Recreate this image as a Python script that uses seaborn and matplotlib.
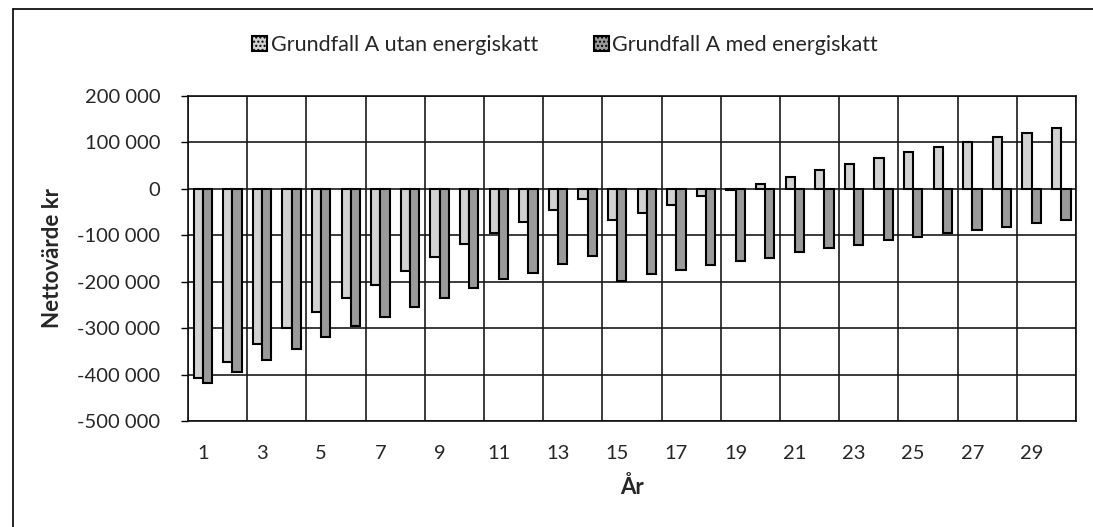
import numpy as np
import pandas as pd
import matplotlib
matplotlib.use("Agg")
import matplotlib.pyplot as plt
from matplotlib.lines import Line2D
import seaborn as sns

years = list(range(1, 31))
utan = [-408000, -372000, -334000, -299000, -266000, -234000, -206000, -176000, -147000, -118000,
        -95000, -71000, -45000, -22000, -68000, -51000, -34000, -15000, -3000, 11000,
        26000, 40000, 54000, 66000, 79000, 89000, 100000, 111000, 121000, 132000]
med = [-419000, -394000, -368000, -344000, -320000, -295000, -276000, -254000, -234000, -214000,
       -195000, -181000, -161000, -145000, -199000, -184000, -175000, -163000, -155000, -148000,
       -137000, -128000, -121000, -111000, -103000, -96000, -89000, -82000, -74000, -68000]
series_names = ["Grundfall A utan energiskatt", "Grundfall A med energiskatt"]
y_ticks = [200000, 100000, 0, -100000, -200000, -300000, -400000, -500000]
y_tick_labels = ["200 000", "100 000", "0", "-100 000", "-200 000", "-300 000", "-400 000", "-500 000"]
x_label = "År"
y_label = "Nettovärde kr"

df = pd.DataFrame({
    "År": [str(y) for y in years] * 2,
    "Värde": utan + med,
    "Serie": [series_names[0]] * len(years) + [series_names[1]] * len(years),
})

sns.set_theme(style="white")
plt.rcParams["font.family"] = ["Lato", "DejaVu Sans"]

fig = plt.figure(figsize=(10.93, 5.27), dpi=100)
ax = fig.add_axes([0.172, 0.201, 0.8125, 0.617])

palette = {series_names[0]: "#d2d2d2", series_names[1]: "#9a9a9a"}
sns.barplot(data=df, x="År", y="Värde", hue="Serie", palette=palette,
            width=0.625, edgecolor="black", linewidth=1.5, ax=ax, errorbar=None,
            saturation=1)

ax.set_xlim(-0.5, 29.5)
ax.set_ylim(-500000, 200000)
ax.set_yticks(y_ticks)
ax.set_yticklabels(y_tick_labels, fontsize=14.5)
ax.set_xticks(range(0, 30, 2))
ax.set_xticklabels([str(y) for y in years[::2]], fontsize=14.5)
ax.set_xticks(np.arange(-0.5, 30, 2), minor=True)
ax.tick_params(axis="x", which="both", length=0, pad=17)
ax.tick_params(axis="y", which="major", length=5, width=1, color="black", direction="out", pad=15, left=True)

ax.grid(False)
ax.yaxis.grid(True, which="major", color="#1a1a1a", linewidth=1.2)
ax.xaxis.grid(True, which="minor", color="#1a1a1a", linewidth=1.2)
ax.set_axisbelow(True)
for s in ax.spines.values():
    s.set_color("#111111")
    s.set_linewidth(1.2)
    s.set_visible(True)

ax.set_xlabel(x_label, fontsize=16, fontweight="bold", labelpad=10)
ax.set_ylabel(y_label, fontsize=16, fontweight="bold", labelpad=10)

handles, labels = ax.get_legend_handles_labels()
if ax.get_legend() is not None:
    ax.get_legend().remove()
for h in handles:
    h.set_hatch("....")
fig.legend(handles, labels, loc="center", bbox_to_anchor=(0.517, 0.914), ncol=2,
           frameon=False, fontsize=15.5, handlelength=0.7, handleheight=0.7,
           handletextpad=0.15, columnspacing=2.6)

# scanned page frame edges
fig.add_artist(Line2D([13 / 1093, 1.0], [1 - 9 / 527, 1 - 9 / 527], transform=fig.transFigure,
                      color="black", linewidth=1.2))
fig.add_artist(Line2D([13 / 1093, 13 / 1093], [0.0, 1 - 9 / 527], transform=fig.transFigure,
                      color="black", linewidth=1.2))

fig.savefig("out.png", dpi=100, facecolor="white")
